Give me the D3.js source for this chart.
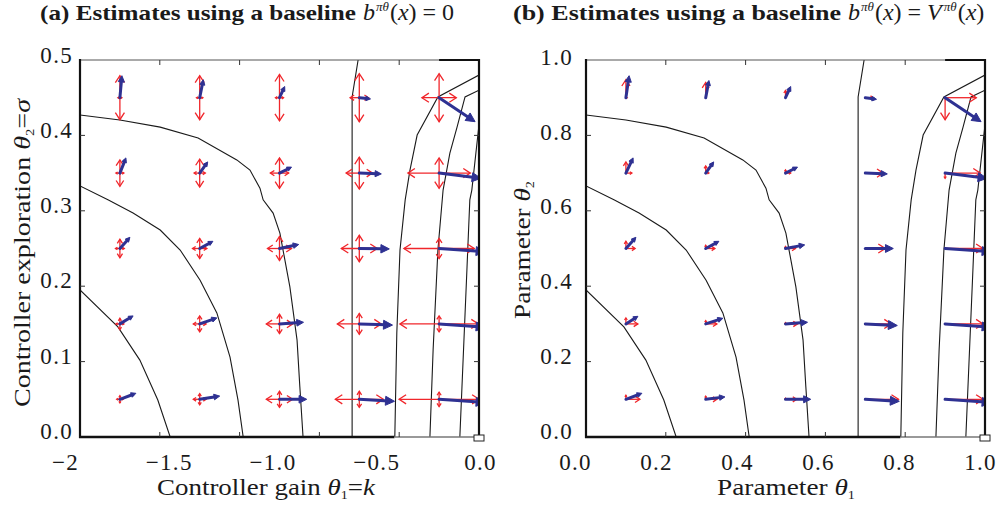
<!DOCTYPE html>
<html>
<head>
<meta charset="utf-8">
<script src="https://cdn.jsdelivr.net/npm/d3@7"></script>
<style>
  body { margin: 0; background: #fff; }
  svg { display: block; }
  text { font-family: "Liberation Serif", "Times New Roman", serif; fill: #1a1a1a; }
</style>
</head>
<body>
<svg id="chart" width="1003" height="506"></svg>
<script>
// ---- parameter grid (normalised θ-space, both panels) ----
const gridTheta1 = [0.1, 0.3, 0.5, 0.7, 0.9];
const gridTheta2 = [0.1, 0.3, 0.5, 0.7, 0.9];

// ---- panel (a): estimates without baseline; rows follow gridTheta2 ----
const gradA1 = [
  [0.40, 0.50, 0.68, 0.88, 1.15],
  [0.33, 0.43, 0.60, 0.83, 1.15],
  [0.25, 0.33, 0.48, 0.75, 1.15],
  [0.15, 0.20, 0.30, 0.55, 1.05],
  [0.05, 0.09, 0.13, 0.28, 0.90]
];
const gradA2 = [
  [0.15, 0.08, 0.00, -0.05, -0.08],
  [0.20, 0.15, 0.04, -0.03, -0.08],
  [0.28, 0.18, 0.10, -0.01, -0.08],
  [0.38, 0.28, 0.15, -0.02, -0.13],
  [0.55, 0.45, 0.28, -0.03, -0.60]
];
const stdA1 = [
  [0.08, 0.16, 0.33, 0.60, 1.00],
  [0.10, 0.16, 0.33, 0.55, 0.98],
  [0.11, 0.18, 0.30, 0.45, 0.88],
  [0.10, 0.14, 0.23, 0.33, 0.78],
  [0.05, 0.08, 0.10, 0.23, 0.43]
];
const stdA2 = [
  [0.09, 0.14, 0.20, 0.20, 0.18],
  [0.14, 0.20, 0.24, 0.26, 0.20],
  [0.23, 0.25, 0.30, 0.33, 0.25],
  [0.33, 0.35, 0.38, 0.40, 0.38],
  [0.55, 0.55, 0.58, 0.60, 0.60]
];

// ---- panel (b): estimates with value baseline ----
const gradB1 = [
  [0.40, 0.48, 0.63, 0.85, 1.15],
  [0.30, 0.43, 0.55, 0.80, 1.15],
  [0.25, 0.33, 0.48, 0.70, 1.15],
  [0.18, 0.20, 0.30, 0.55, 1.05],
  [0.08, 0.08, 0.13, 0.28, 0.90]
];
const gradB2 = [
  [0.15, 0.06, 0.00, -0.05, -0.08],
  [0.19, 0.14, 0.04, -0.04, -0.08],
  [0.28, 0.18, 0.09, 0.00, -0.08],
  [0.38, 0.28, 0.15, -0.02, -0.13],
  [0.55, 0.43, 0.28, -0.04, -0.60]
];
const devB1 = [
  [0.35, 0.28, 0.28, 0.83, 0.95],
  [0.30, 0.28, 0.30, 0.65, 0.95],
  [0.23, 0.23, 0.25, 0.50, 0.95],
  [0.15, 0.08, 0.13, 0.45, 0.88],
  [0.03, 0.00, 0.00, 0.20, 0.78]
];
const devB2 = [
  [0.10, 0.08, 0.03, 0.00, 0.00],
  [0.15, 0.08, 0.03, 0.00, 0.00],
  [0.18, 0.08, 0.05, 0.00, 0.00],
  [0.28, 0.18, 0.08, 0.00, -0.13],
  [0.45, 0.38, 0.18, 0.00, -0.55]
];

// ---- iso-return contours in θ-space (shared by both panels) ----
const contourA = [[0,0.390],[0.095,0.292],[0.150,0.204],[0.195,0.098],[0.226,0]];
const contourB = [[0,0.666],[0.070,0.629],[0.133,0.594],[0.201,0.549],[0.251,0.496],[0.301,0.416],[0.343,0.329],[0.376,0.212],[0.396,0.098],[0.409,0]];
const contourC = [[0,0.854],[0.100,0.841],[0.201,0.822],[0.296,0.793],[0.393,0.735],[0.426,0.708],[0.451,0.660],[0.459,0.629],[0.484,0.594],[0.501,0.541],[0.526,0.398],[0.544,0.257],[0.551,0.133],[0.559,0]];
const contourD = [[0.697,1],[0.682,0.902],[0.682,0]];
const contourE = [[1,0.960],[0.897,0.902],[0.845,0.801],[0.827,0.708],[0.815,0.629],[0.802,0.496],[0.794,0.276],[0.789,0]];
const contourF = [[1,0.920],[0.965,0.902],[0.945,0.822],[0.927,0.753],[0.910,0.655],[0.897,0.496],[0.885,0.231],[0.877,0]];
const contourG = [[1,0.828],[0.982,0.655],[0.977,0.629],[0.970,0.451],[0.952,0]];
const contours = [contourA, contourB, contourC, contourD, contourE, contourF, contourG];
const optimum = [1, 0];

// ---- tick labels ----
const ticksAX = [-2, -1.5, -1.0, -0.5, 0.0];
const labelsAX = ["\u22122", "\u22121.5", "\u22121.0", "\u22120.5", "0.0"];
const ticksAY = [0.0, 0.1, 0.2, 0.3, 0.4, 0.5];
const ticksBX = [0.0, 0.2, 0.4, 0.6, 0.8, 1.0];
const ticksBY = [0.0, 0.2, 0.4, 0.6, 0.8, 1.0];
const innerTicks = [0.2, 0.4, 0.6, 0.8];

const BLUE = "#2e3192";
const RED = "#f0262b";
const svg = d3.select("#chart");

// arrow length scale (gradient units -> px)
const arrowScale = d3.scaleLinear().domain([0, 1]).range([0, 40]);

function blueArrow(g, xa, ya, xb, yb) {
  const dx = xb - xa, dy = yb - ya, L = Math.hypot(dx, dy);
  if (L < 0.5) return;
  const ux = dx / L, uy = dy / L;
  const h = Math.max(4.5, Math.min(9, L * 0.28)), w = h * 0.5;
  g.append("line")
    .attr("x1", xa).attr("y1", ya)
    .attr("x2", xb - ux * h * 0.7).attr("y2", yb - uy * h * 0.7)
    .attr("stroke", BLUE).attr("stroke-width", 3).attr("stroke-linecap", "round");
  g.append("path")
    .attr("d", `M${xb},${yb}L${xb - ux * h - uy * w},${yb - uy * h + ux * w}L${xb - ux * h + uy * w},${yb - uy * h - ux * w}Z`)
    .attr("fill", BLUE).attr("stroke", BLUE).attr("stroke-width", 1).attr("stroke-linejoin", "round");
}

function openHead(g, xt, yt, ux, uy, h) {
  const w = h * 0.65;
  g.append("path")
    .attr("d", `M${xt - ux * h - uy * w},${yt - uy * h + ux * w}L${xt},${yt}L${xt - ux * h + uy * w},${yt - uy * h - ux * w}`)
    .attr("fill", "none").attr("stroke", RED).attr("stroke-width", 1.3);
}

function redArrow(g, xa, ya, xb, yb, both) {
  const dx = xb - xa, dy = yb - ya, L = Math.hypot(dx, dy);
  if (L < 0.8) return;
  const ux = dx / L, uy = dy / L;
  const h = Math.max(1.5, Math.min(7, L * (both ? 0.22 : 0.35)));
  g.append("line").attr("x1", xa).attr("y1", ya).attr("x2", xb).attr("y2", yb)
    .attr("stroke", RED).attr("stroke-width", 1.3);
  openHead(g, xb, yb, ux, uy, h);
  if (both) openHead(g, xa, ya, -ux, -uy, h);
}

function drawPanel(cfg) {
  const { x, y, map, px0, px1, py0, py1, id } = cfg;
  const g = svg.append("g");

  g.append("clipPath").attr("id", id).append("rect")
    .attr("x", px0).attr("y", py0).attr("width", px1 - px0).attr("height", py1 - py0);
  const plot = g.append("g").attr("clip-path", `url(#${id})`);

  // contours
  const line = d3.line().x(d => x(map(d)[0])).y(d => y(map(d)[1]));
  plot.selectAll("path.contour").data(contours).join("path")
    .attr("class", "contour").attr("d", line)
    .attr("fill", "none").attr("stroke", "#1a1a1a").attr("stroke-width", 1.1);

  // red spread marks
  gridTheta2.forEach((t2, r) => gridTheta1.forEach((t1, c) => {
    const [p1, p2] = map([t1, t2]);
    const cx = x(p1), cy = y(p2);
    const sx = arrowScale(cfg.s1[r][c]), sy = arrowScale(cfg.s2[r][c]);
    if (cfg.symmetric) {
      redArrow(plot, cx - sx, cy, cx + sx, cy, true);
      redArrow(plot, cx, cy + sy, cx, cy - sy, true);
    } else {
      redArrow(plot, cx, cy, cx + sx, cy, false);
      redArrow(plot, cx, cy, cx, cy - sy, false);
    }
  }));

  // blue gradient estimates
  gridTheta2.forEach((t2, r) => gridTheta1.forEach((t1, c) => {
    const [p1, p2] = map([t1, t2]);
    const cx = x(p1), cy = y(p2);
    blueArrow(plot, cx, cy, cx + arrowScale(cfg.g1[r][c]), cy - arrowScale(cfg.g2[r][c]));
  }));

  // frame
  const fx = d3.scaleLinear().domain([0, 1]).range([px0, px1]);
  const fy = d3.scaleLinear().domain([0, 1]).range([py1, py0]);
  g.append("line").attr("x1", px0).attr("x2", px1).attr("y1", py0).attr("y2", py0)
    .attr("stroke", "#555").attr("stroke-width", 1);
  g.append("line").attr("x1", fx(0.9)).attr("x2", px1).attr("y1", py0).attr("y2", py0)
    .attr("stroke", "#111").attr("stroke-width", 2);
  g.append("line").attr("x1", px0).attr("x2", px0).attr("y1", py0 - 1).attr("y2", py1 + 1)
    .attr("stroke", "#111").attr("stroke-width", 2.2);
  g.append("line").attr("x1", px1).attr("x2", px1).attr("y1", py0 - 1).attr("y2", py1 + 1)
    .attr("stroke", "#111").attr("stroke-width", 2.2);
  g.append("line").attr("x1", px0 - 1).attr("x2", fx(0.788)).attr("y1", py1).attr("y2", py1)
    .attr("stroke", "#111").attr("stroke-width", 2.4);
  g.append("line").attr("x1", fx(0.788)).attr("x2", px1).attr("y1", py1).attr("y2", py1)
    .attr("stroke", "#777").attr("stroke-width", 1.6);

  // inner ticks
  innerTicks.forEach(t => {
    g.append("line").attr("x1", fx(t)).attr("x2", fx(t)).attr("y1", py1).attr("y2", py1 - 5).attr("stroke", "#333");
    g.append("line").attr("x1", fx(t)).attr("x2", fx(t)).attr("y1", py0).attr("y2", py0 + 5).attr("stroke", "#333");
    g.append("line").attr("y1", fy(t)).attr("y2", fy(t)).attr("x1", px0).attr("x2", px0 + 5).attr("stroke", "#333");
    g.append("line").attr("y1", fy(t)).attr("y2", fy(t)).attr("x1", px1).attr("x2", px1 - 5).attr("stroke", "#333");
  });

  // optimum marker
  const [o1, o2] = map(optimum);
  g.append("rect").attr("x", x(o1) - 5).attr("y", y(o2) - 2).attr("width", 10).attr("height", 6)
    .attr("fill", "#fff").attr("stroke", "#222").attr("stroke-width", 1);

  // tick labels
  const ax = g.append("g").attr("transform", `translate(0,${py1 + 17})`)
    .call(d3.axisBottom(cfg.lx).tickValues(cfg.tx).tickFormat((d, i) => cfg.txLabels[i]).tickSize(0).tickPadding(0));
  const ay = g.append("g").attr("transform", `translate(${cfg.yLabelRight},0)`)
    .call(d3.axisLeft(cfg.ly).tickValues(cfg.ty).tickFormat(d3.format(".1f")).tickSize(0).tickPadding(0));
  [ax, ay].forEach(a => {
    a.select(".domain").remove();
    a.selectAll("text").attr("font-family", '"Liberation Serif", serif').attr("font-size", 23)
      .attr("letter-spacing", 1.3).attr("fill", "#1a1a1a");
  });

  // axis titles
  const xt = g.append("text").attr("x", cfg.xTitleX).attr("y", 495).attr("text-anchor", "middle")
    .attr("font-size", 23).attr("textLength", cfg.xTitleW).attr("lengthAdjust", "spacingAndGlyphs");
  cfg.xTitle(xt);
  const yt = g.append("text").attr("transform", `translate(${cfg.yTitleX},${cfg.yTitleY}) rotate(-90)`)
    .attr("text-anchor", "middle").attr("font-size", 23)
    .attr("textLength", cfg.yTitleW).attr("lengthAdjust", "spacingAndGlyphs");
  cfg.yTitle(yt);

  // panel heading: bold caption followed by the baseline formula
  g.append("text").attr("x", cfg.headX).attr("y", 20).attr("font-size", 22).attr("font-weight", "bold")
    .attr("textLength", cfg.headW).attr("lengthAdjust", "spacingAndGlyphs").text(cfg.headText);
  const mt = g.append("text").attr("x", cfg.headX + cfg.headW + 7).attr("y", 20).attr("font-size", 24);
  cfg.math(mt);
}

function baselineB(t) {
  t.append("tspan").attr("font-style", "italic").text("b");
  t.append("tspan").attr("font-size", 13).attr("dy", -9).attr("dx", 1).attr("font-style", "italic").text("\u03c0\u03b8");
  t.append("tspan").attr("dy", 9).attr("dx", 1).text("(");
  t.append("tspan").attr("font-style", "italic").text("x");
  t.append("tspan").text(") = ");
}

// panel (a): controller gain k ∈ [−2, 0], exploration σ ∈ [0, 0.5]
drawPanel({
  id: "clipA",
  x: d3.scaleLinear().domain([-2, 0]).range([80, 479]),
  y: d3.scaleLinear().domain([0, 0.5]).range([437, 60]),
  map: ([t1, t2]) => [2 * t1 - 2, t2 / 2],
  px0: 80, px1: 479, py0: 60, py1: 437,
  symmetric: true,
  g1: gradA1, g2: gradA2, s1: stdA1, s2: stdA2,
  lx: d3.scaleLinear().domain([-2, 0]).range([65, 480]),
  ly: d3.scaleLinear().domain([0, 0.5]).range([431, 55]),
  tx: ticksAX, txLabels: labelsAX, ty: ticksAY,
  yLabelRight: 73,
  xTitleX: 266, xTitleW: 218,
  xTitle: t => {
    t.append("tspan").text("Controller gain ");
    t.append("tspan").attr("font-style", "italic").text("\u03b8");
    t.append("tspan").attr("font-size", 12).attr("dy", 4).text("1");
    t.append("tspan").attr("dy", -4).text("=");
    t.append("tspan").attr("font-style", "italic").text("k");
  },
  yTitleX: 30, yTitleY: 253, yTitleW: 308,
  yTitle: t => {
    t.append("tspan").text("Controller exploration ");
    t.append("tspan").attr("font-style", "italic").text("\u03b8");
    t.append("tspan").attr("font-size", 12).attr("dy", 4).text("2");
    t.append("tspan").attr("dy", -4).text("=");
    t.append("tspan").attr("font-style", "italic").text("\u03c3");
  },
  headX: 40, headW: 316,
  headText: "(a) Estimates using a baseline",
  math: t => { baselineB(t); t.append("tspan").text("0"); }
});

// panel (b): generic parameters θ1, θ2 ∈ [0, 1]
drawPanel({
  id: "clipB",
  x: d3.scaleLinear().domain([0, 1]).range([586, 985]),
  y: d3.scaleLinear().domain([0, 1]).range([437, 60]),
  map: ([t1, t2]) => [t1, t2],
  px0: 586, px1: 985, py0: 60, py1: 437,
  symmetric: false,
  g1: gradB1, g2: gradB2, s1: devB1, s2: devB2,
  lx: d3.scaleLinear().domain([0, 1]).range([575, 980]),
  ly: d3.scaleLinear().domain([0, 1]).range([431, 57]),
  tx: ticksBX, txLabels: ticksBX.map(d3.format(".1f")), ty: ticksBY,
  yLabelRight: 573,
  xTitleX: 786, xTitleW: 138,
  xTitle: t => {
    t.append("tspan").text("Parameter ");
    t.append("tspan").attr("font-style", "italic").text("\u03b8");
    t.append("tspan").attr("font-size", 12).attr("dy", 4).text("1");
  },
  yTitleX: 530, yTitleY: 250, yTitleW: 138,
  yTitle: t => {
    t.append("tspan").text("Parameter ");
    t.append("tspan").attr("font-style", "italic").text("\u03b8");
    t.append("tspan").attr("font-size", 12).attr("dy", 4).text("2");
  },
  headX: 513, headW: 328,
  headText: "(b) Estimates using a baseline",
  math: t => {
    baselineB(t);
    t.append("tspan").attr("font-style", "italic").text("V");
    t.append("tspan").attr("font-size", 13).attr("dy", -9).attr("dx", 2).attr("font-style", "italic").text("\u03c0\u03b8");
    t.append("tspan").attr("dy", 9).attr("dx", 1).text("(");
    t.append("tspan").attr("font-style", "italic").text("x");
    t.append("tspan").text(")");
  }
});
</script>
</body>
</html>
